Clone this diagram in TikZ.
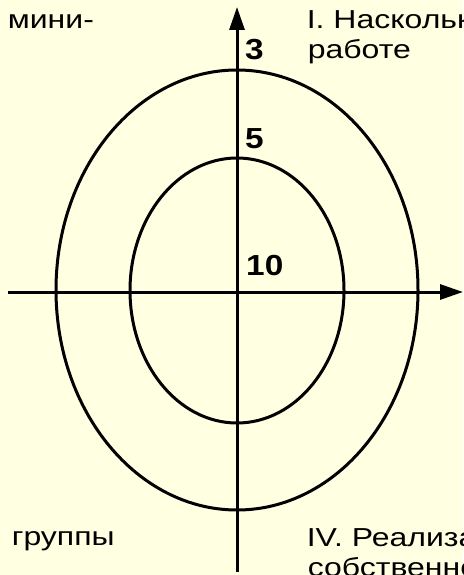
\documentclass[tikz,border=0pt]{standalone}
\usepackage{fontspec}
\setmainfont{Liberation Sans}
\usetikzlibrary{arrows.meta}

\definecolor{bgyellow}{RGB}{255,255,225}

\begin{document}
\begin{tikzpicture}[x=1pt, y=-1pt, line width=3pt,
  axis/.style={-{Triangle[length=23pt,width=15pt]}},
  ring/.style={draw=black},
  tick/.style={anchor=base west,inner sep=0pt,xscale=1.15,font=\fontsize{29}{33}\selectfont\bfseries},
  caption/.style={anchor=base west,inner sep=0pt,xscale=1.23,font=\fontsize{26}{30}\selectfont}]

  %% ════ фон и рамка ════
  \useasboundingbox[fill=bgyellow] (0,0) rectangle (463,575);

  \begin{scope}
  \clip (0,0) rectangle (463,575);

  %% ════ эллипсы ════
  \draw[ring] (237,290) ellipse (181 and 220);
  \draw[ring] (237,290.5) ellipse (107 and 132.5);

  %% ════ оси ════
  \coordinate (ybot) at (237,572);
  \coordinate (ytop) at (237,7);
  \coordinate (xleft) at (8,292);
  \coordinate (xright) at (463,292);
  \draw[axis] (ybot) -- (ytop);
  \draw[axis] (xleft) -- (xright);

  %% ════ отметки ════
  \node[tick] (t3)  at (243.5,59.3)  {3};
  \node[tick] (t5)  at (243.5,148.3) {5};
  \node[tick] (t10) at (244.5,275)   {10};

  %% ════ подписи (строки обрезаны краем, как в оригинале) ════
  \node[caption] (mini)   at (6,28.3)   {мини-};
  \node[caption] (q1a)    at (305,28.3) {I. Насколько};
  \node[caption] (q1b)    at (306,58.3) {работе};
  \node[caption] (grupp)  at (10,545)   {группы};
  \node[caption] (q4a)    at (305,546)  {IV. Реализация};
  \node[caption] (q4b)    at (306,576)  {собственного};
  \end{scope}
\end{tikzpicture}
\end{document}
